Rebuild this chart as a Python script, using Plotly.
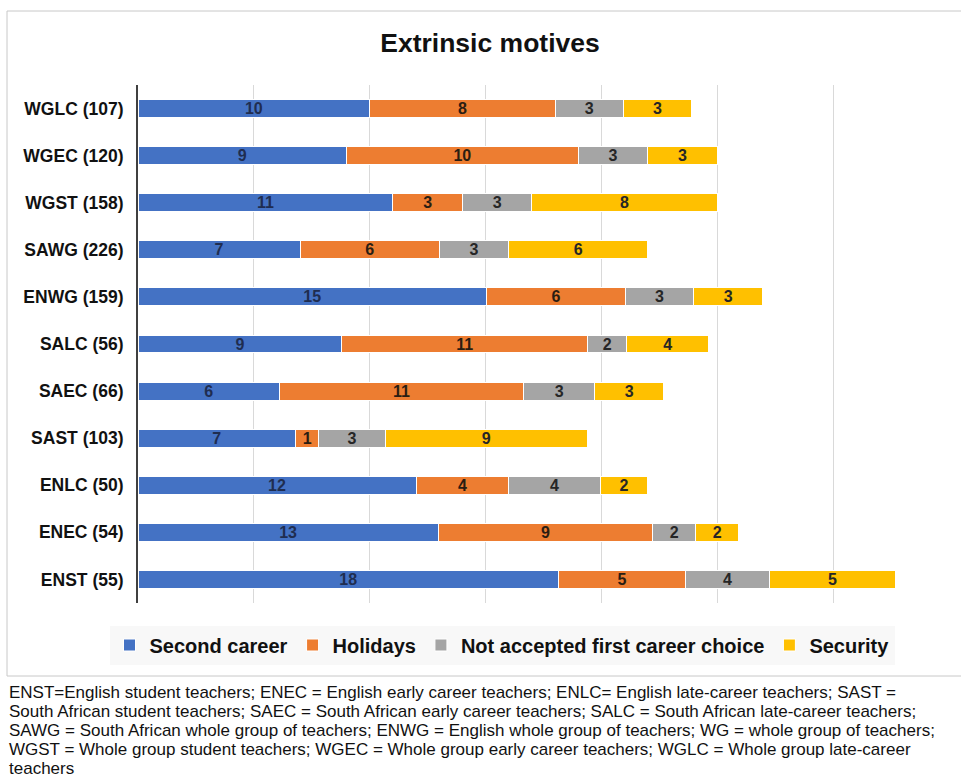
import plotly.graph_objects as go

# Groups, listed bottom to top as they appear on the category axis
groups = ["ENST (55)", "ENEC (54)", "ENLC (50)", "SAST (103)", "SAEC (66)",
          "SALC (56)", "ENWG (159)", "SAWG (226)", "WGST (158)", "WGEC (120)",
          "WGLC (107)"]

# Percentages per motive
second_career = [18.15, 12.96, 12.0, 6.8, 6.1, 8.8, 15.04, 7.0, 11.0, 9.0, 10.0]
holidays = [5.47, 9.26, 4.0, 1.0, 10.55, 10.6, 6.0, 6.0, 3.0, 10.0, 8.0]
not_accepted = [3.64, 1.85, 3.96, 2.87, 3.05, 1.7, 2.93, 3.0, 3.0, 3.0, 2.95]
security = [5.42, 1.85, 2.03, 8.72, 3.0, 3.53, 3.0, 6.0, 8.0, 3.0, 2.95]

series = [
    ("Second career", second_career, "#4472C4", "#1f2d50"),
    ("Holidays", holidays, "#ED7D31", "#2b1d12"),
    ("Not accepted first career choice", not_accepted, "#A5A5A5", "#262626"),
    ("Security", security, "#FFC000", "#262626"),
]

footnote_lines = [
    "ENST=English student teachers; ENEC = English early career teachers; ENLC= English late-career teachers; SAST =",
    "South African student teachers; SAEC = South African early career teachers; SALC = South African late-career teachers;",
    "SAWG = South African whole group of teachers; ENWG = English whole group of teachers; WG = whole group of teachers;",
    "WGST = Whole group student teachers; WGEC = Whole group early career teachers; WGLC = Whole group late-career",
    "teachers",
]

FONT = "Liberation Sans, Arial, sans-serif"

fig = go.Figure()
for name, vals, color, tcolor in series:
    fig.add_trace(go.Bar(
        y=groups, x=vals, name=name, orientation="h",
        marker=dict(color=color, line=dict(color="white", width=1)),
        text=vals, texttemplate="%{x:.0f}", textposition="inside",
        insidetextanchor="middle", textangle=0, constraintext="none",
        textfont=dict(family=FONT, size=16, color=tcolor, weight="bold"),
        hoverinfo="x+y+name",
    ))

W, H = 961, 783
L, R, T, B = 138, 12, 85, 180
pw, ph = W - L - R, H - T - B


def px_x(x):
    return (x - L) / pw


def px_y(y):
    return (H - B - y) / ph


shapes = [dict(type="rect", xref="paper", yref="paper",
               x0=px_x(7), x1=px_x(990), y0=px_y(676), y1=px_y(11),
               line=dict(color="#c8c8c8", width=1), fillcolor="rgba(0,0,0,0)",
               layer="below")]

annotations = []
for i, line in enumerate(footnote_lines):
    annotations.append(dict(
        text=line, xref="paper", yref="paper", x=px_x(7), y=px_y(692 + 19 * i),
        xanchor="left", yanchor="middle", showarrow=False, align="left",
        font=dict(family=FONT, size=17, color="#111111"),
    ))

fig.update_layout(
    width=W, height=H,
    margin=dict(l=L, r=R, t=T, b=B, pad=0),
    paper_bgcolor="white", plot_bgcolor="white",
    barmode="stack", bargap=0.62,
    title=dict(text="<b>Extrinsic motives</b>", x=490 / W, xanchor="center",
               y=1 - 43 / H, yanchor="middle",
               font=dict(family=FONT, size=26.5, color="#111111")),
    xaxis=dict(range=[0, 35], dtick=5, showgrid=True, gridcolor="#d9d9d9",
               gridwidth=1, showticklabels=False, zeroline=False, showline=False,
               fixedrange=True),
    yaxis=dict(showline=True, linecolor="#404040", linewidth=2,
               ticks="", ticklabelstandoff=9, showgrid=False,
               tickfont=dict(family=FONT, size=17.5, color="#111111", weight="bold")),
    legend=dict(orientation="h", x=px_x(502), xanchor="center",
                y=px_y(645), yanchor="middle", bgcolor="#f8f8f8",
                font=dict(family=FONT, size=20, color="#111111", weight="bold"),
                traceorder="normal", itemwidth=30),
    shapes=shapes,
    annotations=annotations,
    showlegend=True,
)

fig.write_html("out.html")
